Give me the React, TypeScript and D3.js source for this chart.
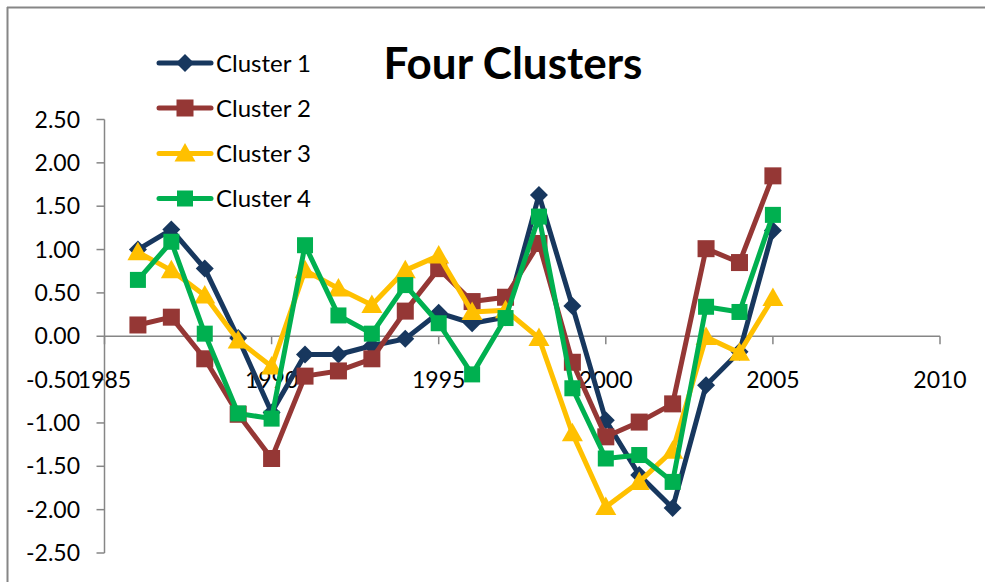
import React from "react";
import * as d3 from "d3";

const years = [1986,1987,1988,1989,1990,1991,1992,1993,1994,1995,1996,1997,1998,1999,2000,2001,2002,2003,2004,2005];
const cluster1 = [1.0,1.23,0.78,-0.02,-0.88,-0.21,-0.21,-0.11,-0.03,0.27,0.15,0.22,1.63,0.35,-0.97,-1.6,-1.98,-0.565,-0.18,1.22];
const cluster2 = [0.13,0.22,-0.26,-0.9,-1.41,-0.46,-0.4,-0.26,0.29,0.78,0.4,0.45,1.07,-0.3,-1.16,-0.99,-0.78,1.01,0.85,1.85];
const cluster3 = [0.97,0.76,0.47,-0.05,-0.35,0.76,0.55,0.36,0.76,0.93,0.28,0.3,-0.02,-1.12,-1.97,-1.68,-1.32,-0.01,-0.19,0.44];
const cluster4 = [0.65,1.09,0.03,-0.89,-0.95,1.05,0.24,0.03,0.59,0.15,-0.44,0.21,1.38,-0.6,-1.41,-1.37,-1.68,0.34,0.28,1.4];
const seriesNames = ["Cluster 1","Cluster 2","Cluster 3","Cluster 4"];
const seriesColors = ["#17375E","#953735","#FFC000","#00B050"];
const seriesMarkers = ["diamond","square","triangle","square"];
const yTicks = [2.5,2.0,1.5,1.0,0.5,0.0,-0.5,-1.0,-1.5,-2.0,-2.5];
const xTicks = [1985,1990,1995,2000,2005,2010];

const FONT = "Lato, 'Open Sans', sans-serif";

function Marker({ type, color, x, y, s }: any) {
  if (type === "diamond") {
    const h = s;
    return <path d={`M${x},${y - h}L${x + h},${y}L${x},${y + h}L${x - h},${y}Z`} fill={color} />;
  }
  if (type === "triangle") {
    return <path d={`M${x},${y - 10.5}L${x + 10.5},${y + 8}L${x - 10.5},${y + 8}Z`} fill={color} />;
  }
  return <rect x={x - s} y={y - s} width={2 * s} height={2 * s} fill={color} />;
}

export default function App() {
  const data = [cluster1, cluster2, cluster3, cluster4];
  const x = d3.scaleLinear().domain([1985, 2010]).range([104.5, 940]);
  const y = d3.scaleLinear().domain([-2.5, 2.5]).range([553, 119.5]);
  const line = d3.line<number>().x((_, i) => x(years[i])).y((d) => y(d));
  const axisColor = "#868686";
  const legendY = [63, 108, 153.5, 198.5];
  const markerSize = [9, 8.5, 9, 8];

  return (
    <svg width={985} height={582} style={{ position: "absolute", left: 0, top: 0, background: "#fff" }}>
      <rect x={0} y={0} width={985} height={582} fill="#fff" />
      <line x1={7} y1={7.5} x2={985} y2={7.5} stroke={axisColor} strokeWidth={2} />
      <line x1={7.5} y1={7} x2={7.5} y2={582} stroke={axisColor} strokeWidth={2} />

      {/* y axis */}
      <line x1={x(1985)} y1={y(2.5)} x2={x(1985)} y2={y(-2.5)} stroke={axisColor} strokeWidth={1.5} />
      {yTicks.map((t) => (
        <g key={t}>
          <line x1={x(1985) - 8} x2={x(1985)} y1={y(t)} y2={y(t)} stroke={axisColor} strokeWidth={1.5} />
          <text x={80} y={y(t) + 8} textAnchor="end" fontFamily={FONT} fontSize={23} fill="#000">
            {t.toFixed(2)}
          </text>
        </g>
      ))}

      {/* x axis */}
      <line x1={x(1985)} y1={y(0)} x2={x(2010)} y2={y(0)} stroke={axisColor} strokeWidth={1.5} />
      {xTicks.map((t) => (
        <g key={t}>
          <line x1={x(t)} x2={x(t)} y1={y(0)} y2={y(0) + 8} stroke={axisColor} strokeWidth={1.5} />
          <text x={x(t)} y={388} textAnchor="middle" fontFamily={FONT} fontSize={23} fill="#000">
            {t}
          </text>
        </g>
      ))}

      {/* series */}
      {data.map((vals, si) => (
        <g key={si}>
          <path d={line(vals) || ""} fill="none" stroke={seriesColors[si]} strokeWidth={5} strokeLinejoin="round" />
          {vals.map((v, i) => (
            <Marker key={i} type={seriesMarkers[si]} color={seriesColors[si]} x={x(years[i])} y={y(v)} s={markerSize[si]} />
          ))}
        </g>
      ))}

      {/* legend */}
      {seriesNames.map((name, si) => (
        <g key={name}>
          <line x1={159} x2={211} y1={legendY[si]} y2={legendY[si]} stroke={seriesColors[si]} strokeWidth={5} strokeLinecap="round" />
          <Marker type={seriesMarkers[si]} color={seriesColors[si]} x={185} y={legendY[si]} s={markerSize[si]} />
          <text x={216} y={legendY[si] + 8.5} fontFamily={FONT} fontSize={24} fill="#000">
            {name}
          </text>
        </g>
      ))}

      <text x={513} y={79} textAnchor="middle" fontFamily={FONT} fontWeight="bold" fontSize={44} fill="#000">
        Four Clusters
      </text>
    </svg>
  );
}
